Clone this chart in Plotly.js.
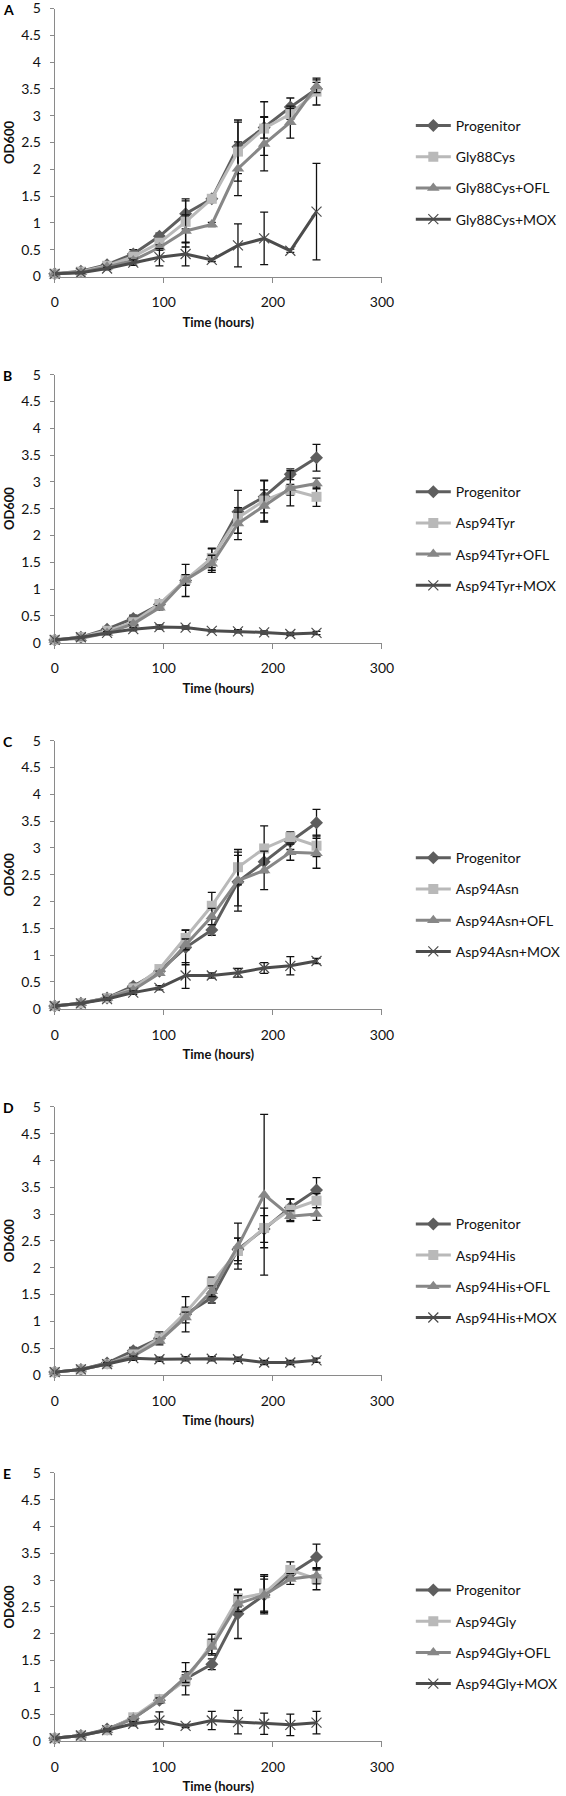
<!DOCTYPE html>
<html>
<head>
<meta charset="utf-8">
<script src="https://cdn.plot.ly/plotly-3.0.1.min.js"></script>
<style>html,body{margin:0;padding:0;background:#fff;}#chart{width:566px;height:1796px;}</style>
</head>
<body>
<div id="chart"></div>
<script>
// ---------- data ----------
const timeHours = [0, 24, 48, 72, 96, 120, 144, 168, 192, 216, 240];
const panelLetters = ["A", "B", "C", "D", "E"];
const mutantNames = ["Gly88Cys", "Asp94Tyr", "Asp94Asn", "Asp94His", "Asp94Gly"];
const xTickVals = [0, 100, 200, 300];
const yTickVals = [0, 0.5, 1, 1.5, 2, 2.5, 3, 3.5, 4, 4.5, 5];
const yTickText = ["0", "0.5", "1", "1.5", "2", "2.5", "3", "3.5", "4", "4.5", "5"];

// Panel A
const progA = [0.05, 0.10, 0.22, 0.42, 0.75, 1.17, 1.45, 2.42, 2.78, 3.16, 3.50];
const progAerr = [0.01, 0.01, 0.03, 0.08, 0.06, 0.28, 0.05, 0.50, 0.20, 0.17, 0.12];
const mutA = [0.05, 0.09, 0.20, 0.37, 0.63, 1.02, 1.45, 2.33, 2.76, 3.03, 3.45];
const mutAerr = [0.01, 0.01, 0.03, 0.05, 0.05, 0.39, 0.05, 0.55, 0.50, 0.10, 0.25];
const oflA = [0.05, 0.08, 0.18, 0.30, 0.54, 0.85, 0.97, 2.01, 2.47, 2.88, 3.55];
const oflAerr = [0.01, 0.01, 0.02, 0.04, 0.05, 0.30, 0.04, 0.50, 0.50, 0.30, 0.12];
const moxA = [0.05, 0.07, 0.15, 0.26, 0.36, 0.42, 0.31, 0.58, 0.71, 0.48, 1.21];
const moxAerr = [0.01, 0.01, 0.02, 0.05, 0.16, 0.22, 0.03, 0.40, 0.49, 0.03, 0.90];

// Panel B
const progB = [0.05, 0.10, 0.25, 0.45, 0.71, 1.16, 1.55, 2.44, 2.72, 3.14, 3.45];
const progBerr = [0.01, 0.01, 0.03, 0.06, 0.05, 0.30, 0.20, 0.40, 0.30, 0.10, 0.25];
const mutB = [0.05, 0.10, 0.22, 0.38, 0.72, 1.17, 1.58, 2.33, 2.65, 2.85, 2.72];
const mutBerr = [0.01, 0.01, 0.02, 0.04, 0.04, 0.10, 0.18, 0.10, 0.38, 0.10, 0.18];
const oflB = [0.05, 0.08, 0.18, 0.35, 0.65, 1.17, 1.47, 2.22, 2.55, 2.88, 2.97];
const oflBerr = [0.01, 0.01, 0.02, 0.03, 0.04, 0.10, 0.16, 0.30, 0.30, 0.33, 0.10];
const moxB = [0.05, 0.10, 0.18, 0.25, 0.29, 0.28, 0.22, 0.21, 0.19, 0.16, 0.18];
const moxBerr = [0.01, 0.01, 0.02, 0.03, 0.04, 0.03, 0.02, 0.03, 0.03, 0.03, 0.03];

// Panel C
const progC = [0.05, 0.10, 0.20, 0.42, 0.70, 1.14, 1.47, 2.37, 2.74, 3.12, 3.47];
const progCerr = [0.01, 0.01, 0.02, 0.05, 0.05, 0.32, 0.10, 0.55, 0.20, 0.15, 0.25];
const mutC = [0.05, 0.10, 0.20, 0.38, 0.74, 1.32, 1.92, 2.64, 2.99, 3.20, 3.04];
const mutCerr = [0.01, 0.01, 0.02, 0.04, 0.05, 0.15, 0.25, 0.33, 0.42, 0.10, 0.20];
const oflC = [0.05, 0.10, 0.20, 0.35, 0.66, 1.20, 1.72, 2.39, 2.58, 2.92, 2.90];
const oflCerr = [0.01, 0.01, 0.02, 0.03, 0.04, 0.10, 0.15, 0.47, 0.36, 0.15, 0.28];
const moxC = [0.05, 0.10, 0.18, 0.30, 0.39, 0.62, 0.62, 0.67, 0.76, 0.80, 0.89];
const moxCerr = [0.01, 0.01, 0.02, 0.03, 0.04, 0.24, 0.05, 0.08, 0.10, 0.17, 0.05];

// Panel D
const progD = [0.05, 0.10, 0.22, 0.45, 0.68, 1.13, 1.44, 2.34, 2.72, 3.12, 3.45];
const progDerr = [0.01, 0.01, 0.02, 0.06, 0.12, 0.33, 0.10, 0.21, 0.25, 0.16, 0.23];
const mutD = [0.05, 0.10, 0.20, 0.38, 0.68, 1.16, 1.72, 2.31, 2.74, 3.08, 3.25];
const mutDerr = [0.01, 0.01, 0.02, 0.04, 0.05, 0.10, 0.10, 0.24, 0.37, 0.20, 0.13];
const oflD = [0.05, 0.10, 0.20, 0.35, 0.63, 1.07, 1.56, 2.40, 3.36, 2.96, 3.00];
const oflDerr = [0.01, 0.01, 0.02, 0.03, 0.04, 0.10, 0.10, 0.43, 1.50, 0.10, 0.12];
const moxD = [0.05, 0.10, 0.20, 0.31, 0.29, 0.30, 0.30, 0.29, 0.23, 0.23, 0.27];
const moxDerr = [0.01, 0.01, 0.02, 0.04, 0.04, 0.04, 0.04, 0.04, 0.04, 0.04, 0.04];

// Panel E
const progE = [0.05, 0.10, 0.22, 0.42, 0.76, 1.16, 1.43, 2.37, 2.72, 3.12, 3.43];
const progEerr = [0.01, 0.01, 0.02, 0.08, 0.05, 0.30, 0.10, 0.46, 0.35, 0.10, 0.24];
const mutE = [0.05, 0.10, 0.20, 0.44, 0.78, 1.13, 1.81, 2.66, 2.75, 3.19, 3.02];
const mutEerr = [0.01, 0.01, 0.02, 0.04, 0.05, 0.10, 0.18, 0.16, 0.35, 0.15, 0.20];
const oflE = [0.05, 0.10, 0.20, 0.42, 0.75, 1.19, 1.75, 2.56, 2.72, 3.02, 3.08];
const oflEerr = [0.01, 0.01, 0.02, 0.03, 0.05, 0.10, 0.15, 0.15, 0.30, 0.10, 0.15];
const moxE = [0.05, 0.10, 0.20, 0.32, 0.38, 0.28, 0.38, 0.35, 0.32, 0.30, 0.34];
const moxEerr = [0.01, 0.01, 0.02, 0.04, 0.16, 0.03, 0.17, 0.22, 0.20, 0.20, 0.21];

// ---------- build ----------
const panels = [
  {prog: progA, progErr: progAerr, mut: mutA, mutErr: mutAerr, ofl: oflA, oflErr: oflAerr, mox: moxA, moxErr: moxAerr},
  {prog: progB, progErr: progBerr, mut: mutB, mutErr: mutBerr, ofl: oflB, oflErr: oflBerr, mox: moxB, moxErr: moxBerr},
  {prog: progC, progErr: progCerr, mut: mutC, mutErr: mutCerr, ofl: oflC, oflErr: oflCerr, mox: moxC, moxErr: moxCerr},
  {prog: progD, progErr: progDerr, mut: mutD, mutErr: mutDerr, ofl: oflD, oflErr: oflDerr, mox: moxD, moxErr: moxDerr},
  {prog: progE, progErr: progEerr, mut: mutE, mutErr: mutEerr, ofl: oflE, oflErr: oflEerr, mox: moxE, moxErr: moxEerr}
];

const W = 566, H = 1796;
const FONT = "Lato, 'Open Sans', sans-serif";
const plotLeft = 55, plotRight = 384;
const firstBottom = 276.5, panelStep = 366.1, plotHeight = 268;
const legendLeft = 413, legendTop0 = 110;

const styles = {
  prog: {color: "#5e5e5e", symbol: "diamond", size: 10},
  mut:  {color: "#b9b9b9", symbol: "square", size: 10},
  ofl:  {color: "#878787", symbol: "triangle-up", size: 11},
  mox:  {color: "#4c4c4c", symbol: "x-thin-open", size: 10}
};

const traces = [];
const layout = {
  width: W, height: H,
  margin: {l: 0, r: 0, t: 0, b: 0},
  paper_bgcolor: "#ffffff", plot_bgcolor: "#ffffff",
  font: {family: FONT, size: 14, color: "#111"},
  showlegend: true,
  annotations: []
};

panels.forEach((p, i) => {
  const n = i + 1;
  const xid = n === 1 ? "x" : "x" + n;
  const yid = n === 1 ? "y" : "y" + n;
  const lid = n === 1 ? "legend" : "legend" + n;
  const bottom = firstBottom + panelStep * i;
  const top = bottom - plotHeight;
  const names = ["Progenitor", mutantNames[i], mutantNames[i] + "+OFL", mutantNames[i] + "+MOX"];
  const keys = ["prog", "mut", "ofl", "mox"];
  keys.forEach((k, j) => {
    const st = styles[k];
    const marker = {symbol: st.symbol, size: st.size, color: st.color};
    if (k === "mox") marker.line = {color: "#333", width: 1.2};
    traces.push({
      type: "scatter", mode: "lines+markers",
      x: timeHours, y: p[k], name: names[j],
      xaxis: xid, yaxis: yid, legend: lid,
      legendgroup: "g" + n + "_" + j,
      cliponaxis: false,
      line: {color: st.color, width: 3},
      marker: marker,
      error_y: {type: "data", array: p[k + "Err"], visible: true, color: "#111", thickness: 1.3, width: 4}
    });
  });

  layout["xaxis" + (n === 1 ? "" : n)] = {
    domain: [plotLeft / W, plotRight / W],
    anchor: yid, range: [0, 300],
    tickmode: "array", tickvals: xTickVals,
    showgrid: false, zeroline: false,
    showline: true, linecolor: "#8a8a8a", linewidth: 1,
    ticks: "outside", ticklen: 5, tickcolor: "#8a8a8a",
    ticklabelstandoff: 8, ticklabeloverflow: "allow",
    tickfont: {family: FONT, size: 14, color: "#111"},
    title: {text: "<b>Time (hours)</b>", font: {family: FONT, size: 13, color: "#111"}, standoff: 8},
    fixedrange: true
  };
  layout["yaxis" + (n === 1 ? "" : n)] = {
    domain: [1 - bottom / H, 1 - top / H],
    anchor: xid, range: [0, 5],
    tickmode: "array", tickvals: yTickVals, ticktext: yTickText,
    showgrid: false, zeroline: false,
    showline: true, linecolor: "#8a8a8a", linewidth: 1,
    ticks: "outside", ticklen: 4, tickcolor: "#8a8a8a",
    ticklabelstandoff: 6, ticklabeloverflow: "allow",
    tickfont: {family: FONT, size: 14, color: "#111"},
    title: {text: "<b>OD600</b>", font: {family: FONT, size: 13, color: "#111"}, standoff: 3},
    fixedrange: true
  };
  layout[lid] = {
    x: legendLeft / W, xanchor: "left",
    y: 1 - (legendTop0 + panelStep * i) / H, yanchor: "top",
    bgcolor: "rgba(0,0,0,0)", borderwidth: 0,
    font: {family: FONT, size: 14, color: "#111"},
    tracegroupgap: 10, itemwidth: 35,
    traceorder: "grouped"
  };
  layout.annotations.push({
    xref: "paper", yref: "paper",
    x: 1 / W, y: 1 - (top + 1) / H,
    xanchor: "left", yanchor: "middle",
    text: "<b>" + panelLetters[i] + "</b>", showarrow: false,
    font: {family: FONT, size: 14, color: "#000"}
  });
});

Plotly.newPlot("chart", traces, layout, {displayModeBar: false, staticPlot: true});
</script>
</body>
</html>
